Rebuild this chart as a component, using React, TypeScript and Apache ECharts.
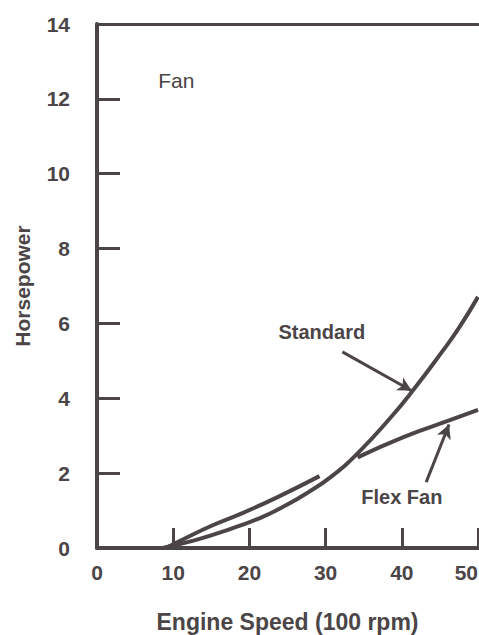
import React, { useEffect, useRef } from "react";
import * as echarts from "echarts";

const INK = "#4b4547";
const FONT = "'Liberation Sans', Arial, Helvetica, sans-serif";

const xTicks = [0, 10, 20, 30, 40, 50];
const yTicks = [0, 2, 4, 6, 8, 10, 12, 14];

// Standard fan horsepower vs engine speed (100 rpm)
const standardSpeed = [8.6, 12.9, 17.1, 21.6, 24.8, 27.5, 30.7, 34.2, 38.6, 41.5, 45.2, 47.5, 50];
const standardHp = [0, 0.21, 0.48, 0.82, 1.14, 1.46, 1.9, 2.53, 3.5, 4.22, 5.22, 5.88, 6.71];

// Flex fan: low-speed segment and high-speed segment
const flexLowSpeed = [9, 11, 15.1, 19.4, 23.7, 29.2];
const flexLowHp = [0, 0.2, 0.6, 0.96, 1.36, 1.92];
const flexHighSpeed = [34.2, 40.3, 46.4, 50];
const flexHighHp = [2.42, 2.97, 3.42, 3.69];

// annotations: [x, y]
const fanLabelAt = [10.4, 12.48];
const standardLabelAt = [29.5, 5.77];
const flexLabelAt = [40.0, 1.36];
const standardArrow = [[32.2, 5.24], [41.3, 4.2]];
const flexArrow = [[43.2, 1.76], [46.2, 3.3]];

const zip = (xs: number[], ys: number[]) => xs.map((x, i) => [x, ys[i]]);

export default function App() {
  const ref = useRef<HTMLDivElement>(null);
  useEffect(() => {
    if (!ref.current) return;
    const chart = echarts.init(ref.current, null, { renderer: "svg" });
    const textLabel = (coord: number[], text: string, weight: string, size: number) => ({
      coord,
      symbol: "circle",
      symbolSize: 1,
      itemStyle: { color: "rgba(0,0,0,0)" },
      label: {
        show: true,
        position: "inside",
        formatter: text,
        color: INK,
        fontFamily: FONT,
        fontSize: size,
        fontWeight: weight,
      },
    });
    const lineStyle = { color: INK, width: 4 };
    chart.setOption({
      animation: false,
      backgroundColor: "#ffffff",
      grid: {
        left: 97,
        right: 1,
        top: 24,
        bottom: 87,
        containLabel: false,
        outerBoundsMode: "none",
      },
      xAxis: [
        {
          type: "value",
          min: xTicks[0],
          max: xTicks[xTicks.length - 1],
          interval: 10,
          name: "Engine Speed (100 rpm)",
          nameLocation: "middle",
          nameGap: 62,
          nameTextStyle: { color: INK, fontFamily: FONT, fontSize: 23, fontWeight: "bold" },
          axisLine: { show: true, onZero: false, lineStyle: { color: INK, width: 4 } },
          axisTick: { show: true, inside: true, length: 20, lineStyle: { color: INK, width: 3 } },
          axisLabel: {
            color: INK,
            fontFamily: FONT,
            fontSize: 21,
            fontWeight: "bold",
            margin: 14,
            alignMaxLabel: "right",
          },
          splitLine: { show: false },
        },
        {
          type: "value",
          position: "top",
          min: xTicks[0],
          max: xTicks[xTicks.length - 1],
          axisLine: { show: true, onZero: false, lineStyle: { color: INK, width: 3 } },
          axisTick: { show: false },
          axisLabel: { show: false },
          splitLine: { show: false },
        },
      ],
      yAxis: {
        type: "value",
        min: yTicks[0],
        max: yTicks[yTicks.length - 1],
        interval: 2,
        name: "Horsepower",
        nameLocation: "middle",
        nameGap: 64,
        nameTextStyle: { color: INK, fontFamily: FONT, fontSize: 21, fontWeight: "bold" },
        axisLine: { show: true, onZero: false, lineStyle: { color: INK, width: 4 } },
        axisTick: { show: true, inside: true, length: 23, lineStyle: { color: INK, width: 3 } },
        axisLabel: { color: INK, fontFamily: FONT, fontSize: 21, fontWeight: "bold", margin: 27 },
        splitLine: { show: false },
      },
      series: [
        {
          name: "Standard",
          type: "line",
          smooth: true,
          showSymbol: false,
          data: zip(standardSpeed, standardHp),
          lineStyle,
          markPoint: {
            silent: true,
            data: [
              textLabel(fanLabelAt, "Fan", "normal", 21),
              textLabel(standardLabelAt, "Standard", "bold", 20),
              textLabel(flexLabelAt, "Flex Fan", "bold", 20),
            ],
          },
          markLine: {
            silent: true,
            symbol: ["none", "arrow"],
            symbolSize: [11, 14],
            label: { show: false },
            lineStyle: { color: INK, width: 3, type: "solid" },
            data: [
              [{ coord: standardArrow[0] }, { coord: standardArrow[1] }],
              [{ coord: flexArrow[0] }, { coord: flexArrow[1] }],
            ],
          },
        },
        {
          name: "Flex Fan (low)",
          type: "line",
          smooth: true,
          showSymbol: false,
          data: zip(flexLowSpeed, flexLowHp),
          lineStyle,
        },
        {
          name: "Flex Fan (high)",
          type: "line",
          smooth: true,
          showSymbol: false,
          data: zip(flexHighSpeed, flexHighHp),
          lineStyle,
        },
      ],
    });
    return () => chart.dispose();
  }, []);
  return (
    <div
      ref={ref}
      style={{ position: "fixed", left: 0, top: 0, width: 479, height: 635 }}
    />
  );
}
